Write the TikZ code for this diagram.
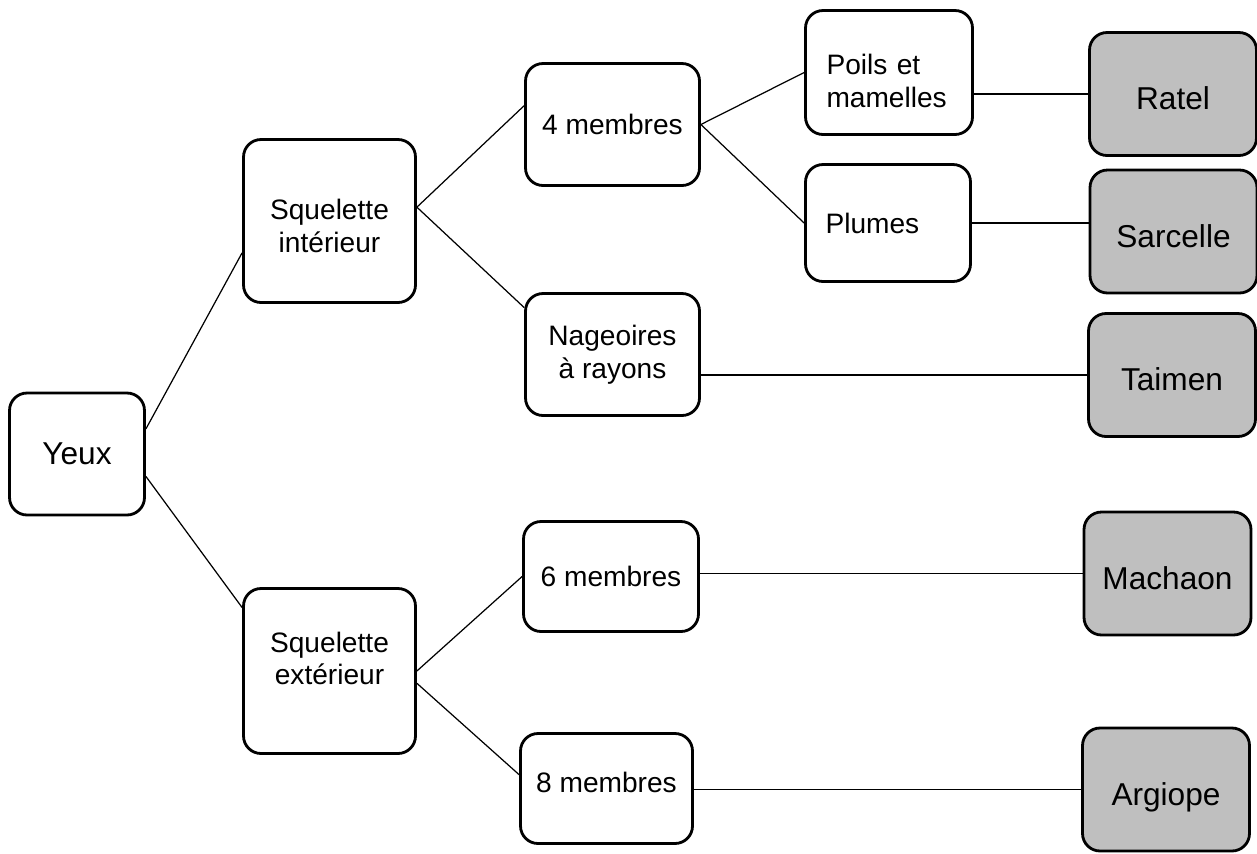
\documentclass[tikz,border=0pt]{standalone}
\usepackage{fontspec}
\setmainfont{Liberation Sans}
\definecolor{leafgray}{RGB}{191,191,191}

\begin{document}
\begin{tikzpicture}[x=0.02cm,y=-0.02cm,
    box/.style={draw,line width=1.6pt,rounded corners=0.35cm,align=center,
      inner sep=0pt,font=\fontsize{16}{18.7}\selectfont},
    leaf/.style={box,fill=leafgray,minimum width=3.34cm,minimum height=2.46cm,
      font=\fontsize{18}{21}\selectfont,text height=20pt,text depth=2pt},
    link/.style={line width=0.7pt}]
  \useasboundingbox (0,0) rectangle (1257,853);
  \node[box,minimum width=2.7cm,minimum height=2.44cm,
    font=\fontsize{18}{21}\selectfont] (yeux) at (77,454) {Yeux};
  \node[box,minimum width=3.44cm,minimum height=3.26cm,text height=36.2pt,
    text depth=0pt] (sqint) at (329.5,221) {Squelette\\intérieur};
  \node[box,minimum width=3.44cm,minimum height=3.3cm,text height=15.8pt,
    text depth=0pt] (sqext) at (329.5,671) {Squelette\\extérieur};
  \node[box,minimum width=3.48cm,minimum height=2.44cm] (quatre) at (612.5,124.5)
    {4 membres};
  \node[box,minimum width=3.48cm,minimum height=2.44cm] (nag) at (612.5,354.5)
    {Nageoires\\à rayons};
  \node[box,minimum width=3.5cm,minimum height=2.2cm] (six) at (611,576.5)
    {6 membres};
  \node[box,minimum width=3.44cm,minimum height=2.2cm,text height=11.7pt,
    text depth=7.7pt] (huit) at (606.5,788.5) {8 membres};
  \node[box,minimum width=3.34cm,minimum height=2.48cm,align=left,
    text width=2.5cm,text height=11.7pt,text depth=8.9pt] (poils) at (889,72.5)
    {Poils et\\mamelles};
  \node[box,minimum width=3.3cm,minimum height=2.34cm,align=left,
    text width=2.5cm] (plumes) at (888,223) {Plumes};
  \node[leaf] (ratel) at (1173,94) {Ratel};
  \node[leaf] (sarcelle) at (1173.5,231.5) {Sarcelle};
  \node[leaf] (taimen) at (1172,375) {Taimen};
  \node[leaf] (machaon) at (1167.5,573.5) {Machaon};
  \node[leaf] (argiope) at (1166,789.5) {Argiope};
  \path[link] (yeux.20) edge (sqint.200)
    (yeux.-18) edge (sqext.144)
    (sqint.9) edge (quatre.168)
    (sqint.9) edge (nag.152)
    (sqext.east) edge (six.west)
    (sqext.-8) edge (huit.171)
    (quatre.east) edge (poils.west)
    (quatre.east) edge (plumes.west)
    (poils.east |- ratel.west) edge (ratel.west)
    (plumes.east) edge (plumes.east -| sarcelle.west)
    (nag.east |- taimen.west) edge (taimen.west)
    (six.east |- machaon.west) edge (machaon.west)
    (huit.east |- argiope.west) edge (argiope.west);
\end{tikzpicture}
\end{document}
